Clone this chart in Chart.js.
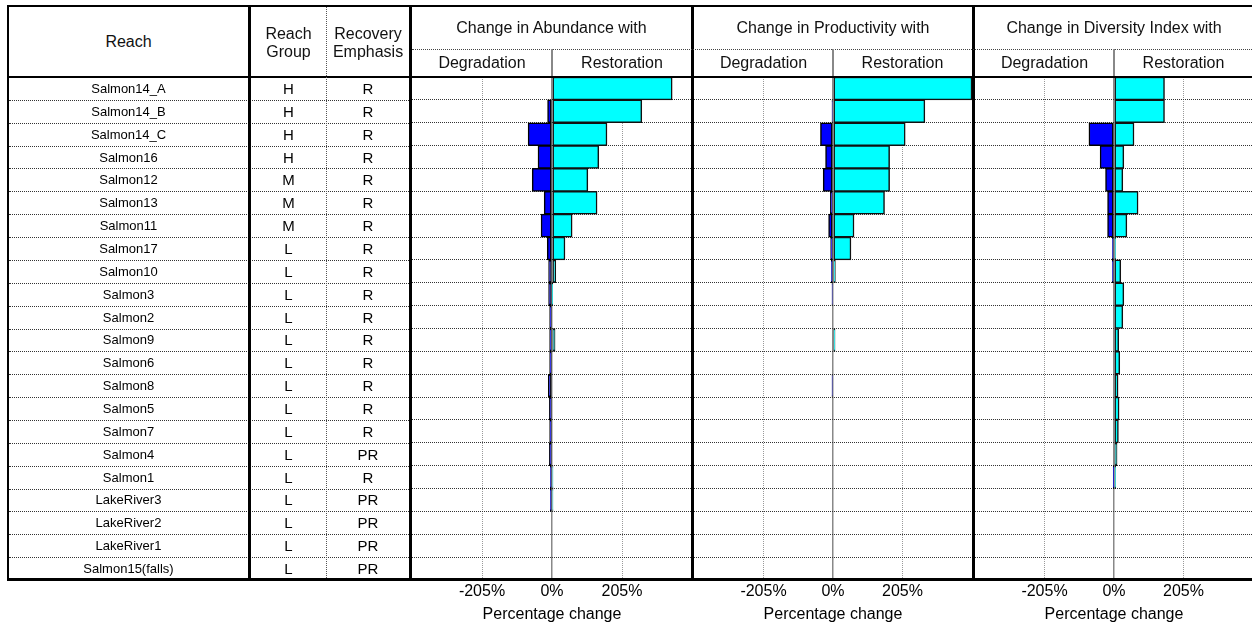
<!DOCTYPE html>
<html lang="en">
<head>
<meta charset="UTF-8">
<title>Change in Abundance, Productivity and Diversity Index by Reach</title>
<script src="https://cdn.jsdelivr.net/npm/chart.js"></script>
<style>
  html, body { margin: 0; padding: 0; background: #fff; }
  body { width: 1252px; height: 626px; position: relative; overflow: hidden;
         font-family: "Liberation Sans", Arial, sans-serif; color: #000; }
  .line { position: absolute; background: #000; z-index: 5; }
  .hdr { position: absolute; display: flex; align-items: center; justify-content: center;
         text-align: center; font-size: 16px; line-height: 18px; color: #111; z-index: 6; }
  .cell { position: absolute; display: flex; align-items: center; justify-content: center; z-index: 6; }
  .rowline { position: absolute; height: 0; border-top: 1px dotted #333; z-index: 4; }
  .panel { position: absolute; top: 77px; height: 549px; }
</style>
</head>
<body>

<!-- header texts -->
<div class="hdr" style="left:9px; top:7px; width:239px; height:69px;">Reach</div>
<div class="hdr" style="left:251px; top:8px; width:75px; height:69px;">Reach<br>Group</div>
<div class="hdr" style="left:327px; top:8px; width:82px; height:69px;">Recovery<br>Emphasis</div>

<div class="hdr" style="left:412px; top:7px; width:279px; height:42px;">Change in Abundance with</div>
<div class="hdr" style="left:412px; top:50px; width:140px; height:26px;">Degradation</div>
<div class="hdr" style="left:552px; top:50px; width:140px; height:26px;">Restoration</div>

<div class="hdr" style="left:694px; top:7px; width:278px; height:42px;">Change in Productivity with</div>
<div class="hdr" style="left:694px; top:50px; width:139px; height:26px;">Degradation</div>
<div class="hdr" style="left:833px; top:50px; width:139px; height:26px;">Restoration</div>

<div class="hdr" style="left:975px; top:7px; width:278px; height:42px;">Change in Diversity Index with</div>
<div class="hdr" style="left:975px; top:50px; width:139px; height:26px;">Degradation</div>
<div class="hdr" style="left:1114px; top:50px; width:139px; height:26px;">Restoration</div>

<!-- chart panels -->
<div class="panel" style="left:412px; width:280px;"><canvas id="abundanceChart"></canvas></div>
<div class="panel" style="left:694px; width:278px;"><canvas id="productivityChart"></canvas></div>
<div class="panel" style="left:975px; width:278px;"><canvas id="diversityChart"></canvas></div>

<!-- frame lines -->
<div class="line" style="left:7px; top:5px; width:1245px; height:2px;"></div>
<div class="line" style="left:7px; top:76px; width:1245px; height:2px;"></div>
<div class="line" style="left:7px; top:578px; width:1245px; height:3px;"></div>
<div class="line" style="left:7px; top:5px; width:2px; height:576px;"></div>
<div class="line" style="left:248px; top:5px; width:3px; height:576px;"></div>
<div class="line" style="left:409px; top:5px; width:3px; height:576px;"></div>
<div class="line" style="left:691px; top:5px; width:3px; height:576px;"></div>
<div class="line" style="left:972px; top:5px; width:3px; height:576px;"></div>
<div class="line" style="left:326px; top:7px; width:0; height:571px; background:none; border-left:1px dotted #555;"></div>
<div class="line" style="left:412px; top:49px; width:840px; height:0; background:none; border-top:1px dotted #444;"></div>
<div class="line" style="left:551px; top:49px; width:2px; height:27px; background:#888;"></div>
<div class="line" style="left:832px; top:49px; width:2px; height:27px; background:#888;"></div>
<div class="line" style="left:1113px; top:49px; width:2px; height:27px; background:#888;"></div>

<script>
  // rows of the table, top to bottom
  const reaches = ['Salmon14_A', 'Salmon14_B', 'Salmon14_C', 'Salmon16', 'Salmon12', 'Salmon13',
                   'Salmon11', 'Salmon17', 'Salmon10', 'Salmon3', 'Salmon2', 'Salmon9', 'Salmon6',
                   'Salmon8', 'Salmon5', 'Salmon7', 'Salmon4', 'Salmon1', 'LakeRiver3', 'LakeRiver2',
                   'LakeRiver1', 'Salmon15(falls)'];
  const reachGroups = ['H', 'H', 'H', 'H', 'M', 'M', 'M', 'L', 'L', 'L', 'L', 'L', 'L', 'L', 'L',
                       'L', 'L', 'L', 'L', 'L', 'L', 'L'];
  const recoveryEmphasis = ['R', 'R', 'R', 'R', 'R', 'R', 'R', 'R', 'R', 'R', 'R', 'R', 'R', 'R',
                            'R', 'R', 'PR', 'R', 'PR', 'PR', 'PR', 'PR'];

  // percentage change
  const abundanceDegradation = [0, -13, -70, -41, -58, -23, -32, -14, -10, -10, -7, -7, -7, -11,
                                -8, -7, -8, -5, -5, 0, 0, 0];
  const abundanceRestoration = [352, 263, 161, 137, 105, 132, 59, 38, 11, 1, 0, 9, 0, 0,
                                0, 0, 0, 3, 3, 0, 0, 0];
  const productivityDegradation = [0, -3, -37, -22, -29, -8, -13, -7, -5, -3, 0, 0, 0, -3,
                                   0, 0, 0, 0, 0, 0, 0, 0];
  const productivityRestoration = [410, 271, 213, 167, 167, 152, 62, 53, 7, 0, 0, 6, 0, 0,
                                   0, 0, 0, 0, 0, 0, 0, 0];
  const diversityDegradation = [0, 0, -74, -41, -25, -19, -19, -5, -5, 0, 0, 0, 0, 0,
                                0, 0, 0, -1, 0, 0, 0, 0];
  const diversityRestoration = [149, 149, 59, 29, 26, 71, 38, 5, 20, 29, 26, 14, 17, 12,
                                15, 13, 9, 5, 0, 0, 0, 0];

  const tickValues = [-205, 0, 205];
  const axisLimit = 410;

  const fontFamily = '"Liberation Sans", Arial, sans-serif';

  // left table: one cell per row and column
  const tableTop = 77, tableBottom = 580;
  const rowH = (tableBottom - tableTop) / reaches.length;
  const columns = [
    { values: reaches, left: 9, width: 239, size: 13 },
    { values: reachGroups, left: 251, width: 75, size: 15 },
    { values: recoveryEmphasis, left: 327, width: 82, size: 15 }
  ];
  columns.forEach(col => {
    col.values.forEach((txt, i) => {
      const d = document.createElement('div');
      d.className = 'cell';
      d.style.left = col.left + 'px';
      d.style.width = col.width + 'px';
      d.style.top = (tableTop + i * rowH) + 'px';
      d.style.height = rowH + 'px';
      d.style.fontSize = col.size + 'px';
      d.textContent = txt;
      document.body.appendChild(d);
    });
  });
  for (let i = 1; i < reaches.length; i++) {
    const l = document.createElement('div');
    l.className = 'rowline';
    l.style.left = '9px';
    l.style.width = '400px';
    l.style.top = Math.round(tableTop + i * rowH) + 'px';
    document.body.appendChild(l);
  }

  function makePanel(canvasId, degradation, restoration) {
    const ctx = document.getElementById(canvasId).getContext('2d');
    new Chart(ctx, {
      type: 'bar',
      data: {
        labels: reaches,
        datasets: [
          { label: 'Degradation', data: degradation, backgroundColor: '#0000ff',
            borderColor: '#000', borderWidth: 1.5, borderSkipped: false },
          { label: 'Restoration', data: restoration, backgroundColor: '#00ffff',
            borderColor: '#111', borderWidth: 1.5, borderSkipped: false }
        ]
      },
      options: {
        indexAxis: 'y',
        responsive: true,
        maintainAspectRatio: false,
        animation: false,
        events: [],
        layout: { padding: 0 },
        datasets: { bar: { barPercentage: 1, categoryPercentage: 1 } },
        plugins: { legend: { display: false }, tooltip: { enabled: false } },
        scales: {
          x: {
            stacked: true,
            min: -axisLimit,
            max: axisLimit,
            afterBuildTicks: scale => { scale.ticks = tickValues.map(v => ({ value: v })); },
            afterFit: scale => { scale.height = 46; },
            ticks: {
              callback: v => v + '%',
              color: '#000',
              font: { family: fontFamily, size: 16 },
              padding: 2,
              maxRotation: 0,
              autoSkip: false
            },
            grid: {
              drawTicks: false,
              color: c => (c.tick && c.tick.value === 0) ? '#888' : '#999',
              lineWidth: c => (c.tick && c.tick.value === 0) ? 1.5 : 1
            },
            border: {
              display: false,
              dash: c => (c.tick && c.tick.value === 0) ? [] : [1, 1]
            },
            title: {
              display: true,
              text: 'Percentage change',
              color: '#000',
              font: { family: fontFamily, size: 16 },
              padding: { top: 0, bottom: 2 }
            }
          },
          y: {
            stacked: true,
            offset: true,
            ticks: { display: false },
            grid: { offset: true, drawTicks: false, color: '#333', lineWidth: 1 },
            border: { display: false, dash: [1, 1] }
          }
        }
      }
    });
  }

  makePanel('abundanceChart', abundanceDegradation, abundanceRestoration);
  makePanel('productivityChart', productivityDegradation, productivityRestoration);
  makePanel('diversityChart', diversityDegradation, diversityRestoration);
</script>
</body>
</html>
